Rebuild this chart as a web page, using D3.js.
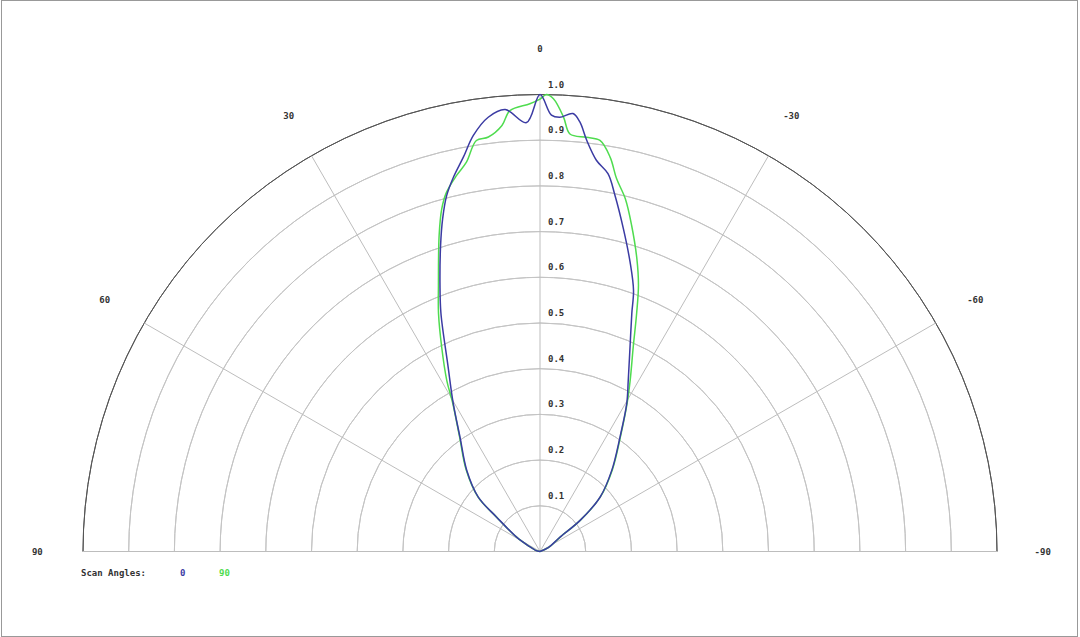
<!DOCTYPE html>
<html>
<head>
<meta charset="utf-8">
<script src="https://cdn.jsdelivr.net/npm/d3@7"></script>
<style>
  body { margin: 0; background: #fff; }
  text { font-family: "DejaVu Sans Mono", monospace; font-weight: bold; font-size: 9px; fill: #333; }
</style>
</head>
<body>
<script>
// scan angle (deg, + is to the left) and normalised intensity
var angles0 = [90, 75, 65, 58.5, 51.6, 48.6, 42.1, 35, 30.4, 26.3, 22.6, 20.6, 18, 16.3, 14.7, 13, 11, 9.1, 6.8, 4.5, 1.8, 0,
  -1.5, -2.6, -4.3, -5.3, -6.5, -8.2, -10.2, -11.9, -14.5, -17.3, -19.7, -21.1, -23.8, -27.3, -30.4, -35, -41.5, -47.9, -52.2, -54.4, -65, -90];
var values0 = [0, 0.01, 0.025, 0.06, 0.121, 0.18, 0.239, 0.305, 0.375, 0.455, 0.564, 0.622, 0.704, 0.759, 0.805, 0.841, 0.879, 0.922, 0.957, 0.97, 0.939, 1.0,
  0.955, 0.951, 0.961, 0.944, 0.905, 0.865, 0.84, 0.796, 0.729, 0.663, 0.607, 0.558, 0.488, 0.421, 0.375, 0.305, 0.237, 0.177, 0.111, 0.054, 0.02, 0];

var angles90 = [90, 75, 65, 58.5, 51.6, 48.6, 42.1, 35, 30.4, 28.6, 25.7, 23.1, 20.9, 17.7, 16, 14.6, 12.5, 10.7, 8.8, 7.1, 5.1, 3.9, 1.3, 0,
  -0.8, -1.7, -3.1, -4.1, -6.4, -8.3, -10.1, -11.6, -13.6, -15.7, -18.3, -20.3, -22.1, -24.5, -27.8, -30.4, -35, -41.5, -47.9, -52.2, -54.4, -65, -90];
var values90 = [0, 0.01, 0.025, 0.06, 0.122, 0.181, 0.241, 0.307, 0.378, 0.426, 0.496, 0.566, 0.623, 0.726, 0.78, 0.812, 0.843, 0.867, 0.91, 0.914, 0.936, 0.967, 0.98, 0.99,
  1.0, 0.991, 0.952, 0.916, 0.912, 0.909, 0.876, 0.833, 0.794, 0.741, 0.675, 0.621, 0.562, 0.492, 0.423, 0.377, 0.307, 0.239, 0.178, 0.112, 0.055, 0.02, 0];

var ringTicks = [0.1, 0.2, 0.3, 0.4, 0.5, 0.6, 0.7, 0.8, 0.9, 1.0];
var spokeTicks = [90, 60, 30, 0, -30, -60, -90];
var legendLabels = ["0", "90"];
var colors = ["#3b3ba3", "#4fdc4f"];

var width = 1080, height = 637;
var cx = 540, cy = 551.5, R = 457;

var svg = d3.select("body").append("svg")
  .attr("width", width)
  .attr("height", height);

//frame round the picture
svg.append("rect")
  .attr("x", 1.5).attr("y", 0.5)
  .attr("width", 1076).attr("height", 636)
  .attr("fill", "#fff")
  .attr("stroke", "#999");

var r = d3.scaleLinear().domain([0, 1]).range([0, R]);
var toRad = function(a) { return -a * Math.PI / 180; };

var g = svg.append("g").attr("transform", "translate(" + cx + "," + cy + ")");

//rings
var ringArc = d3.arc()
  .innerRadius(function(d) { return r(d); })
  .outerRadius(function(d) { return r(d); })
  .startAngle(-Math.PI / 2)
  .endAngle(Math.PI / 2);

g.selectAll(".ring")
  .data(ringTicks)
  .enter().append("path")
  .attr("class", "ring")
  .attr("d", ringArc)
  .attr("fill", "none")
  .attr("stroke", function(d) { return d === 1 ? "#555" : "#c4c4c4"; })
  .attr("stroke-width", 1);

//spokes
g.selectAll(".spoke")
  .data(spokeTicks)
  .enter().append("line")
  .attr("class", "spoke")
  .attr("x1", 0).attr("y1", 0)
  .attr("x2", function(d) { return r(1) * Math.sin(toRad(d)); })
  .attr("y2", function(d) { return -r(1) * Math.cos(toRad(d)); })
  .attr("stroke", "#bdbdbd")
  .attr("stroke-width", 1);

//angle labels
g.selectAll(".alabel")
  .data(spokeTicks)
  .enter().append("text")
  .attr("class", "alabel")
  .attr("x", function(d) { return r(1.1) * Math.sin(toRad(d)); })
  .attr("y", function(d) { return -r(1.1) * Math.cos(toRad(d)) + 3; })
  .attr("text-anchor", "middle")
  .text(function(d) { return d; });

//ring labels
g.selectAll(".rlabel")
  .data(ringTicks)
  .enter().append("text")
  .attr("class", "rlabel")
  .attr("x", 8)
  .attr("y", function(d) { return -r(d) - 7; })
  .text(function(d) { return d.toFixed(1); });

//curves
var line = d3.lineRadial()
  .angle(function(d) { return toRad(d[0]); })
  .radius(function(d) { return r(d[1]); })
  .curve(d3.curveCatmullRom.alpha(0.5));

var series = [d3.zip(angles90, values90), d3.zip(angles0, values0)];
var seriesColors = [colors[1], colors[0]];

g.selectAll(".curve")
  .data(series)
  .enter().append("path")
  .attr("class", "curve")
  .attr("d", line)
  .attr("fill", "none")
  .attr("stroke", function(d, i) { return seriesColors[i]; })
  .attr("stroke-width", 1.5);

//legend
svg.append("text")
  .attr("x", 81).attr("y", 576)
  .text("Scan Angles:");

svg.selectAll(".leg")
  .data(legendLabels)
  .enter().append("text")
  .attr("class", "leg")
  .attr("x", function(d, i) { return 180 + i * 39; })
  .attr("y", 576)
  .style("fill", function(d, i) { return colors[i]; })
  .text(function(d) { return d; });
</script>
</body>
</html>
